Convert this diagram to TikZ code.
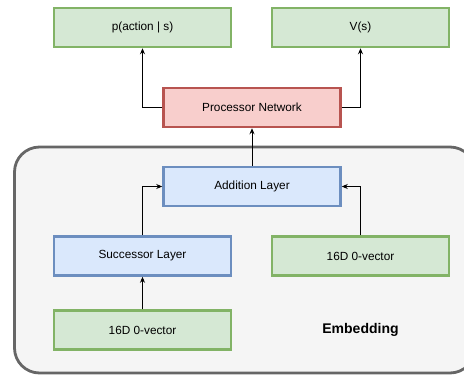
\documentclass[tikz,border=0pt]{standalone}
\usepackage{fontspec}
\setmainfont{Liberation Sans}
\usetikzlibrary{arrows.meta}
\definecolor{greenfill}{HTML}{D5E8D4}
\definecolor{greenline}{HTML}{82B366}
\definecolor{bluefill}{HTML}{DAE8FC}
\definecolor{blueline}{HTML}{6C8EBF}
\definecolor{redfill}{HTML}{F8CECC}
\definecolor{redline}{HTML}{B85450}
\definecolor{groupfill}{HTML}{F5F5F5}
\definecolor{groupline}{HTML}{666666}
\tikzset{>=stealth}
\tikzset{
  layer/.style={draw, line width=2.5pt, minimum width=177pt, minimum height=39pt,
    inner sep=0pt, font=\fontsize{11.8}{14}\selectfont},
  greenbox/.style={layer, fill=greenfill, draw=greenline},
  bluebox/.style={layer, fill=bluefill, draw=blueline},
  redbox/.style={layer, fill=redfill, draw=redline},
  link/.style={->, line width=0.8pt, >={Stealth[length=6pt,width=5pt,inset=2pt]}},
}

\begin{document}
\begin{tikzpicture}[x=1pt, y=-1pt]
\useasboundingbox (0,0) rectangle (464,376);
% embedding group
\draw[fill=groupfill, draw=groupline, line width=2.8pt, rounded corners=25pt]
  (14.5,147) rectangle (475,373);
\node[font=\fontsize{14}{16}\selectfont\bfseries] (emb) at (360.5,330) {Embedding};
% boxes
\node[greenbox] (policy) at (142.5,27.5) {p(action | s)};
\node[greenbox] (value) at (360.5,27.5) {V(s)};
\node[redbox] (proc) at (252,107.5) {Processor Network};
\node[bluebox] (add) at (252,186.5) {Addition Layer};
\node[bluebox] (succ) at (142.5,256) {Successor Layer};
\node[greenbox] (zeroR) at (360.5,256) {16D 0-vector};
\node[greenbox] (zeroL) at (142.5,330) {16D 0-vector};
% connectors
\draw[link] (proc.west) -| (policy.south);
\draw[link] (proc.east) -| (value.south);
\draw[link] (add.north) -- (proc.south);
\draw[link] (succ.north) |- (add.west);
\draw[link] (zeroR.north) |- (add.east);
\draw[link] (zeroL.north) -- (succ.south);
\end{tikzpicture}
\end{document}
